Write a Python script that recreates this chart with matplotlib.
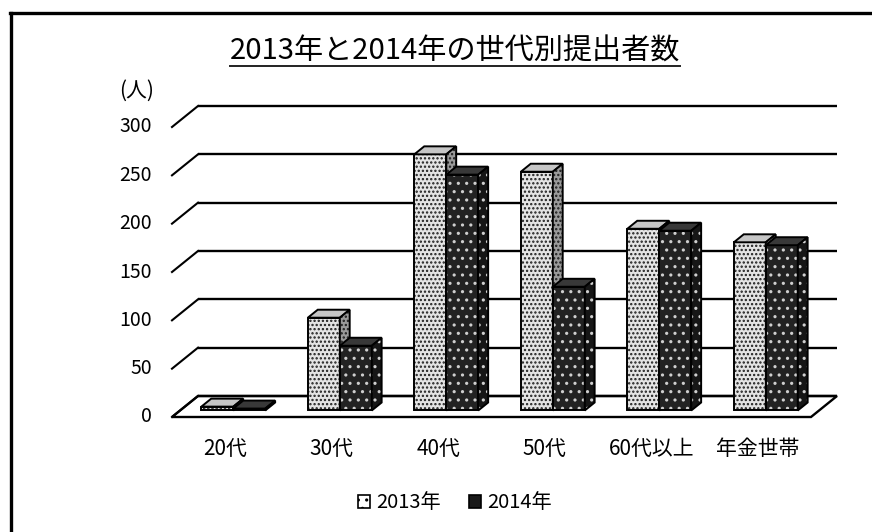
import matplotlib
matplotlib.use("Agg")
import matplotlib.pyplot as plt
from matplotlib.patches import Polygon, Patch
from matplotlib.lines import Line2D

plt.rcParams['font.family'] = ['Noto Sans CJK JP', 'DejaVu Sans']
plt.rcParams['hatch.linewidth'] = 1.1

# data
categories = ['20代', '30代', '40代', '50代', '60代以上', '年金世帯']
series_names = ['2013年', '2014年']
values_2013 = [4, 96, 265, 247, 188, 174]
values_2014 = [2, 67, 244, 128, 186, 171]
y_ticks = [0, 50, 100, 150, 200, 250, 300]
title = '2013年と2014年の世代別提出者数'
unit_label = '(人)'

W, H = 872, 532
fig = plt.figure(figsize=(W / 100, H / 100), dpi=100)
fig.patch.set_facecolor('white')

# front plane of the pseudo-3D box, in pixels
left_px, right_px = 172, 811
base_px, top_px = 417, 127
ax = fig.add_axes([left_px / W, (H - base_px) / H,
                   (right_px - left_px) / W, (base_px - top_px) / H])
n = len(categories)
ymax = y_ticks[-1]
ax.set_xlim(0, n)
ax.set_ylim(0, ymax)
ax.axis('off')

PX_X = (right_px - left_px) / n          # pixels per category
PX_Y = (base_px - top_px) / ymax         # pixels per person
DEPTH_X, DEPTH_Y = 26, 21                # oblique depth offset in pixels


def dx(d):
    return d * DEPTH_X / PX_X


def dy(d):
    return d * DEPTH_Y / PX_Y


def proj(x, v, d):
    return (x + dx(d), v + dy(d))


# floor
floor = Polygon([proj(0, 0, 0), proj(n, 0, 0), proj(n, 0, 1), proj(0, 0, 1)],
                closed=True, facecolor='white', edgecolor='black', lw=1.7,
                zorder=1, clip_on=False)
ax.add_patch(floor)

# back-wall gridlines and left-wall diagonals
for v in y_ticks:
    x0, y0 = proj(0, v, 1)
    x1, _ = proj(n, v, 1)
    ax.plot([x0, x1], [y0, y0], color='black', lw=1.7, zorder=2,
            solid_capstyle='butt', clip_on=False)
    ax.plot([0, x0], [v, y0], color='black', lw=1.5, zorder=2, clip_on=False)
    ax.text(-20 / PX_X, v, str(v), ha='right', va='center', fontsize=14)

ax.text(-35 / PX_X, ymax + 36 / PX_Y, unit_label, ha='center', va='center',
        fontsize=15)

# bars
d_front, d_back = 0.31, 0.69
bar_w = 0.30
styles = [
    dict(face='#e4e4e4', hatch='....', hatch_color='#1e1e1e',
         top='#c6c6c6', side='#9a9a9a', side_hatch='....'),
    dict(face='#222222', hatch='..', hatch_color='#cfcfcf',
         top='#383838', side='#161616', side_hatch='..'),
]
series = [values_2013, values_2014]

z = 3
for i in range(n):
    for s, vals in enumerate(series):
        st = styles[s]
        v = vals[i]
        x0 = i + 0.2 + s * bar_w
        x1 = x0 + bar_w
        fx0, fy0 = proj(x0, 0, d_front)
        # front face
        ax.bar(fx0, v, width=bar_w, bottom=fy0, align='edge',
               facecolor=st['face'], edgecolor='none', zorder=z, clip_on=False)
        ax.bar(fx0, v, width=bar_w, bottom=fy0, align='edge',
               fill=False, hatch=st['hatch'], edgecolor=st['hatch_color'],
               lw=0, zorder=z + 0.1, clip_on=False)
        ax.bar(fx0, v, width=bar_w, bottom=fy0, align='edge',
               fill=False, edgecolor='black', lw=1.4, zorder=z + 0.2,
               clip_on=False)
        # top face
        top = Polygon([proj(x0, v, d_front), proj(x1, v, d_front),
                       proj(x1, v, d_back), proj(x0, v, d_back)],
                      closed=True, facecolor=st['top'], edgecolor='black',
                      lw=1.4, zorder=z + 0.3, clip_on=False)
        ax.add_patch(top)
        # right side face
        side_pts = [proj(x1, 0, d_front), proj(x1, 0, d_back),
                    proj(x1, v, d_back), proj(x1, v, d_front)]
        ax.add_patch(Polygon(side_pts, closed=True, facecolor=st['side'],
                             edgecolor='none', zorder=z + 0.3, clip_on=False))
        ax.add_patch(Polygon(side_pts, closed=True, fill=False,
                             hatch=st['side_hatch'], edgecolor=st['hatch_color'],
                             lw=0, zorder=z + 0.35, clip_on=False))
        ax.add_patch(Polygon(side_pts, closed=True, fill=False,
                             edgecolor='black', lw=1.4, zorder=z + 0.4,
                             clip_on=False))
        z += 1

# category labels
for i, c in enumerate(categories):
    ax.text(i + 0.5, -32 / PX_Y, c, ha='center', va='center', fontsize=15)

# title with underline
t = fig.text(455 / W, 1 - 52 / H, title, ha='center', va='center', fontsize=21)
fig.canvas.draw()
bb = t.get_window_extent()
uy = (H - 66) / H
fig.add_artist(Line2D([bb.x0 / W, bb.x1 / W], [uy, uy], color='#222222',
                      lw=1.4, transform=fig.transFigure))

# legend
handles = [Patch(facecolor='white', edgecolor='black', hatch='..', lw=1.2),
           Patch(facecolor='#1a1a1a', edgecolor='black', lw=1.2)]
fig.legend(handles, series_names, loc='center',
           bbox_to_anchor=(455 / W, 1 - 503 / H), ncol=2, frameon=False,
           handlelength=0.6, handleheight=0.6, handletextpad=0.3,
           columnspacing=1.4, fontsize=14.5)

# chart border
fig.add_artist(Line2D([10.5 / W, 10.5 / W], [0, 1 - 13 / H], color='black',
                      lw=2.4, transform=fig.transFigure))
fig.add_artist(Line2D([10 / W, 1], [1 - 13 / H, 1 - 13 / H], color='black',
                      lw=2.4, transform=fig.transFigure))

fig.savefig('out.png', dpi=100, facecolor='white')
